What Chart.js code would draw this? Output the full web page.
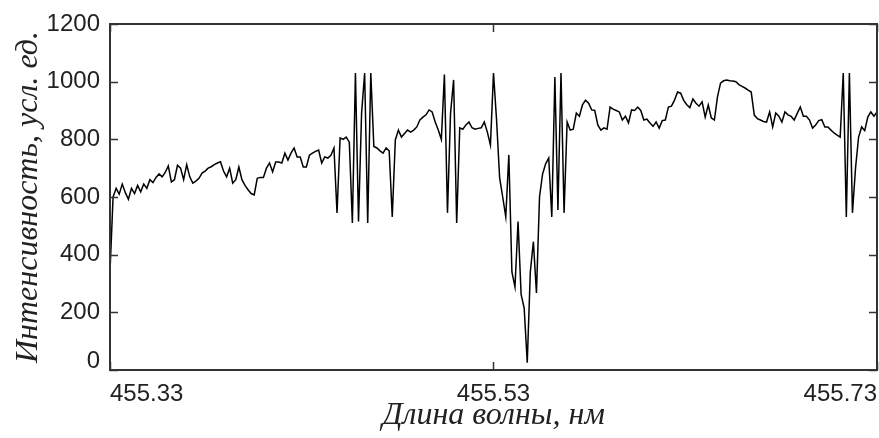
<!DOCTYPE html>
<html>
<head>
<meta charset="utf-8">
<script src="https://cdn.jsdelivr.net/npm/chart.js@4/dist/chart.umd.min.js"></script>
<style>
  html, body { margin: 0; padding: 0; background: #fff; }
  #wrap { width: 879px; height: 438px; }
</style>
</head>
<body>
<div id="wrap"><canvas id="spectrum" width="879" height="438"></canvas></div>
<script>
// Spectrum sampling grid, nm
const wavelengthStart = 455.33;
const wavelengthStep = 0.0016;

// Measured intensity, arb. units (one value per grid step)
const intensity = [
  340, 600, 630, 610, 645, 615, 592, 630, 612, 640,
  618, 645, 630, 660, 650, 668, 680, 670, 685, 708,
  652, 660, 710, 700, 660, 712, 670, 648, 655, 665,
  683, 690, 700, 705, 712, 718, 722, 690, 670, 700,
  648, 660, 704, 660, 640, 625, 612, 607, 665, 668,
  668, 700, 718, 687, 721, 721, 718, 752, 728, 752,
  770, 739, 739, 704, 704, 745, 752, 758, 763, 718,
  739, 735, 745, 770, 545, 805, 800, 808, 790, 510,
  1030, 515, 890, 1030, 510, 1030, 775, 770, 760, 752,
  770, 760, 531, 798, 832, 808, 820, 832, 825, 832,
  843, 867, 877, 885, 902, 895, 860, 832, 800, 1025,
  545, 890, 1006, 510, 840, 835, 850, 860, 840, 835,
  838, 840, 860, 825, 780, 1030, 867, 666, 600, 531,
  746, 340, 288, 515, 262, 215, 25, 340, 445, 267,
  600, 680, 715, 735, 531, 1016, 555, 1030, 545, 860,
  832, 835, 891, 880, 920, 936, 925, 902, 900, 850,
  832, 840, 835, 912, 905, 900, 895, 867, 880, 857,
  902, 900, 912, 900, 867, 870, 857, 845, 860, 839,
  865, 867, 912, 915, 936, 964, 960, 935, 920, 910,
  940, 925, 915, 930, 877, 919, 874, 867, 947, 995,
  1003, 1006, 1003, 1002, 1000, 990, 984, 978, 971, 964,
  884, 872, 867, 862, 860, 895, 843, 891, 880, 860,
  895, 885, 880, 867, 890, 912, 880, 880, 867, 839,
  850, 865, 868, 843, 843, 832, 822, 815, 808, 1030,
  531, 1030, 545, 700, 808, 843, 830, 877, 895, 880, 895
];

const xTickValues = [455.33, 455.53, 455.73];
const yTickValues = [0, 200, 400, 600, 800, 1000, 1200];
const xTitle = 'Длина волны, нм';
const yTitle = 'Интенсивность, усл. ед.';

const wavelengths = intensity.map((_, i) => +(wavelengthStart + i * wavelengthStep).toFixed(4));
const points = wavelengths.map((w, i) => ({ x: w, y: intensity[i] }));

const sansFamily = '"Liberation Sans", Arial, sans-serif';
const serifFamily = '"Liberation Serif", "Times New Roman", serif';
const TICK_LEN = 8;

// Box around the plot area with inward tick marks on all four sides
const framePlugin = {
  id: 'frame',
  afterDatasetsDraw(chart) {
    const { ctx, chartArea: { left, right, top, bottom }, scales: { x, y } } = chart;
    ctx.save();
    ctx.strokeStyle = '#333';
    ctx.lineWidth = 1.5;
    ctx.beginPath();
    yTickValues.forEach(v => {
      const p = Math.round(y.getPixelForValue(v)) + 0.5;
      ctx.moveTo(left, p); ctx.lineTo(left + TICK_LEN, p);
      ctx.moveTo(right, p); ctx.lineTo(right - TICK_LEN, p);
    });
    xTickValues.forEach(v => {
      const p = Math.round(x.getPixelForValue(v)) + 0.5;
      ctx.moveTo(p, bottom); ctx.lineTo(p, bottom - TICK_LEN);
      ctx.moveTo(p, top); ctx.lineTo(p, top + TICK_LEN);
    });
    ctx.stroke();
    ctx.lineWidth = 2;
    ctx.strokeRect(left, top, right - left, bottom - top);
    ctx.restore();
  }
};

new Chart(document.getElementById('spectrum'), {
  type: 'line',
  data: {
    datasets: [{
      data: points,
      borderColor: '#000',
      borderWidth: 1.5,
      pointRadius: 0,
      tension: 0,
      fill: false
    }]
  },
  options: {
    responsive: false,
    animation: false,
    devicePixelRatio: 1,
    layout: { padding: { top: 24, right: 2, left: 0, bottom: 0 } },
    plugins: { legend: { display: false }, tooltip: { enabled: false } },
    scales: {
      x: {
        type: 'linear',
        min: 455.33,
        max: 455.73,
        afterBuildTicks: s => { s.ticks = xTickValues.map(v => ({ value: v })); },
        afterFit: s => { s.height = 68; s.paddingLeft = 0; s.paddingRight = 0; },
        grid: { display: false, drawTicks: false },
        border: { display: false },
        ticks: {
          align: 'inner',
          autoSkip: false,
          maxRotation: 0,
          padding: 10,
          color: '#222',
          font: { family: sansFamily, size: 24 },
          callback: v => Number(v).toFixed(2)
        },
        title: {
          display: true,
          text: xTitle,
          color: '#222',
          font: { family: serifFamily, style: 'italic', size: 32 },
          padding: { top: 0, bottom: 3 }
        }
      },
      y: {
        type: 'linear',
        min: 0,
        max: 1200,
        afterBuildTicks: s => { s.ticks = yTickValues.map(v => ({ value: v })); },
        afterFit: s => { s.width = 110; s.paddingTop = 0; s.paddingBottom = 0; },
        grid: { display: false, drawTicks: false },
        border: { display: false },
        ticks: {
          padding: 10,
          color: '#222',
          font: ctx => ({
            family: sansFamily,
            size: 24,
            lineHeight: (ctx.tick && ctx.tick.value === 0) ? '18px' : 1.2
          }),
          callback: v => (v === 0 ? ['0', ''] : String(v))
        },
        title: {
          display: true,
          text: yTitle,
          color: '#222',
          font: { family: serifFamily, style: 'italic', size: 32 },
          padding: { top: 9, bottom: 0 }
        }
      }
    }
  },
  plugins: [framePlugin]
});
</script>
</body>
</html>
